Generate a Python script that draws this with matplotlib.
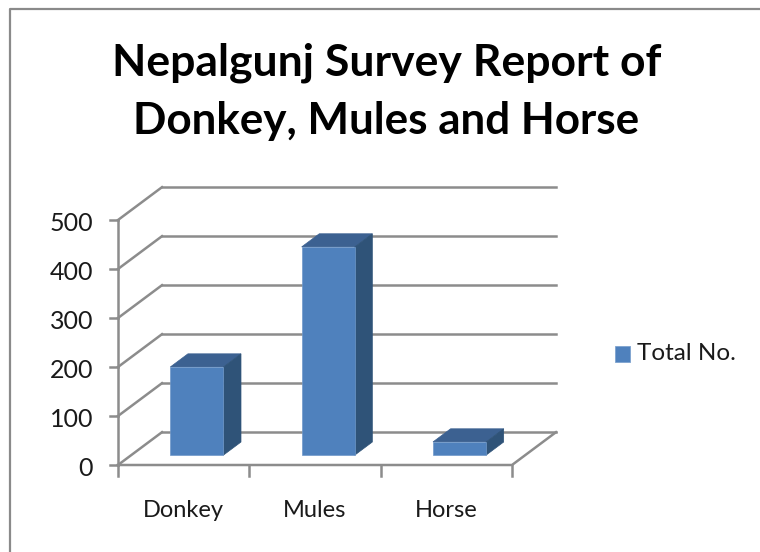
import matplotlib
matplotlib.use("Agg")
import matplotlib.pyplot as plt
from matplotlib.patches import Polygon, Rectangle
from matplotlib.lines import Line2D

plt.rcParams['font.family'] = ['Lato', 'DejaVu Sans']

categories = ["Donkey", "Mules", "Horse"]
total_no = [180, 425, 27]
yticks = [0, 100, 200, 300, 400, 500]

# oblique depth of the fake 3d box, in data units
DX = 0.335
DY = 67
BAR_W = 0.404
GRID = "#8c8c8c"
FRONT = "#4f81bd"
TOP = "#3c6191"
SIDE = "#2f5378"
LW = 1.8

W, H = 760, 552
fig = plt.figure(figsize=(W / 100, H / 100), dpi=100)
# front face of the box: x 118..512, y 465..220 in pixels
ax = fig.add_axes([118 / W, 1 - 465 / H, 394 / W, 245 / H])
ax.set_xlim(0, 3)
ax.set_ylim(0, 500)
ax.axis("off")

# outer chart border
fig.add_artist(Line2D([10 / W, 10 / W, 1], [0, 1 - 9 / H, 1 - 9 / H], color="#8a8a8a", lw=1.6))

# back wall gridlines and the slanted lines on the side wall
for v in yticks:
    ax.plot([DX, 3 + DX], [v + DY, v + DY], color=GRID, lw=LW, clip_on=False, zorder=1)
    ax.plot([0, DX], [v, v + DY], color=GRID, lw=LW, clip_on=False, zorder=1)
    ax.plot([-0.06, 0], [v, v], color=GRID, lw=LW, clip_on=False, zorder=1)
    ax.text(-0.19, v - 8, str(v), ha="right", va="center", fontsize=18, color="#1a1a1a", clip_on=False)

# floor and the front axis
ax.plot([0, 0], [0, 500], color=GRID, lw=LW, clip_on=False, zorder=1)
ax.plot([0, 3, 3 + DX], [0, 0, DY], color=GRID, lw=LW, clip_on=False, zorder=1)
for i in range(4):
    ax.plot([i, i], [0, -22], color=GRID, lw=LW, clip_on=False, zorder=1)

# bars: front, top, side faces
start = 0.3
end = 0.7
for i, v in enumerate(total_no):
    x0 = i + 0.5 - BAR_W / 2 + start * DX
    x1 = x0 + BAR_W
    y0 = start * DY
    y1 = v + y0
    dx = (end - start) * DX
    dy = (end - start) * DY
    ax.add_patch(Polygon([(x0, y1), (x1, y1), (x1 + dx, y1 + dy), (x0 + dx, y1 + dy)],
                         fc=TOP, ec=TOP, lw=0.5, clip_on=False, zorder=3))
    ax.add_patch(Polygon([(x1, y0), (x1 + dx, y0 + dy), (x1 + dx, y1 + dy), (x1, y1)],
                         fc=SIDE, ec=SIDE, lw=0.5, clip_on=False, zorder=3))
    ax.add_patch(Rectangle((x0, y0), BAR_W, y1 - y0, fc=FRONT, ec="#6f98c9", lw=0.5,
                           clip_on=False, zorder=4))
    ax.text(i + 0.5, -92, categories[i], ha="center", va="center", fontsize=17,
            color="#1a1a1a", clip_on=False)

# legend
fig.patches.append(Rectangle((615 / W, 1 - 362 / H), 15 / W, 16 / H, transform=fig.transFigure,
                             fc=FRONT, ec="#7ea3cf", lw=0.6))
fig.text(637 / W, 1 - 354 / H, "Total No.", ha="left", va="center", fontsize=17.5, color="#1a1a1a")

# title
fig.text(387 / W, 1 - 63 / H, "Nepalgunj Survey Report of", ha="center", va="center",
         fontsize=32, fontweight="bold", color="black")
fig.text(386 / W, 1 - 121 / H, "Donkey, Mules and Horse", ha="center", va="center",
         fontsize=31.7, fontweight="bold", color="black")

fig.savefig("out.png", dpi=100)
